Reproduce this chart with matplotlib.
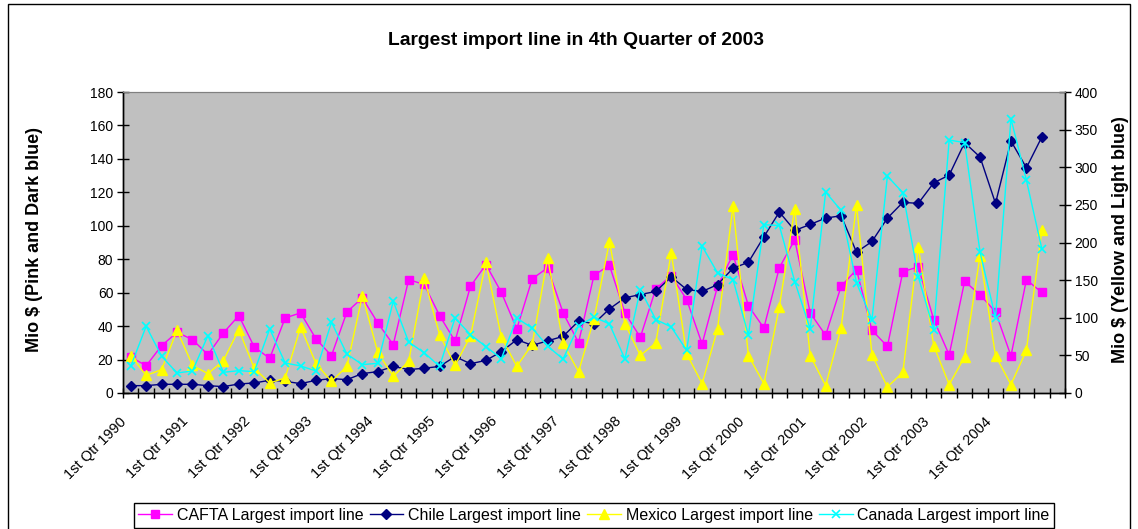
import matplotlib
matplotlib.use("Agg")
import matplotlib.pyplot as plt
import matplotlib.patches as mpatches
import numpy as np

plt.rcParams['font.family'] = ['Liberation Sans', 'DejaVu Sans']

years = list(range(1990, 2005))
quarters = ["1st Qtr", "2nd Qtr", "3rd Qtr", "4th Qtr"]
categories = [f"{q} {y}" for y in years for q in quarters] + [""]

cafta = [21.6, 16.3, 28.3, 36.3, 31.9, 22.9, 35.9, 46.3, 27.5, 20.7,
         44.9, 47.9, 32.3, 22.3, 48.5, 56.9, 41.9, 28.9, 67.8, 64.9,
         46.3, 31.0, 63.8, 76.8, 60.2, 38.3, 68.3, 74.9, 47.9, 30.1,
         70.4, 76.4, 47.9, 33.3, 62.3, 70.2, 55.9, 29.3, 63.8, 82.8,
         52.1, 38.9, 74.9, 91.6, 47.9, 34.5, 63.8, 73.8, 37.5, 27.9,
         72.6, 75.4, 43.9, 22.8, 66.8, 58.7, 48.5, 22.2, 67.7, 60.2]

chile = [4.4, 4.4, 5.2, 5.2, 5.2, 4.4, 3.8, 5.4, 6.0, 7.6,
         7.0, 5.6, 7.6, 8.6, 8.0, 11.6, 12.8, 15.9, 14.0, 14.8,
         15.9, 21.8, 17.5, 19.5, 24.7, 31.9, 28.5, 31.2, 33.9, 43.0,
         41.5, 50.3, 56.9, 58.9, 60.7, 69.5, 61.9, 60.7, 64.8, 74.6,
         78.2, 93.4, 108.2, 97.2, 100.8, 104.6, 106.0, 84.2, 90.6, 104.6,
         114.0, 113.4, 125.7, 130.3, 149.7, 141.1, 113.4, 150.7, 134.7, 153.1]

mexico = [49.6, 23.4, 31.0, 83.3, 36.7, 25.7, 43.0, 84.3, 32.7, 13.3,
          20.0, 87.8, 39.0, 15.5, 35.4, 129.5, 54.0, 22.1, 42.0, 153.0,
          77.6, 36.8, 75.4, 173.8, 74.2, 35.4, 64.9, 179.6, 66.0, 28.3,
          98.5, 201.0, 92.2, 50.0, 66.5, 186.3, 52.3, 12.4, 85.2, 248.4,
          49.7, 12.4, 114.4, 244.8, 49.7, 9.7, 86.5, 250.2, 51.0, 8.0,
          27.4, 194.3, 62.9, 11.1, 47.9, 182.7, 49.7, 11.1, 56.7, 216.0]

canada = [35.4, 88.7, 48.8, 26.6, 29.3, 76.3, 27.5, 29.7, 28.4, 85.2,
          39.9, 35.9, 29.3, 94.0, 51.7, 37.7, 39.5, 121.9, 67.6, 53.6,
          35.4, 99.5, 77.6, 61.6, 45.6, 99.5, 86.2, 62.0, 45.2, 89.2,
          101.0, 91.8, 45.2, 137.5, 97.6, 87.8, 56.7, 195.1, 159.7, 150.8,
          76.9, 223.6, 222.6, 148.1, 85.2, 267.0, 242.6, 146.4, 97.5, 288.2,
          266.1, 154.4, 84.2, 336.2, 332.7, 187.1, 99.8, 364.6, 282.9, 191.6]

series_names = ["CAFTA Largest import line", "Chile Largest import line",
                "Mexico Largest import line", "Canada Largest import line"]
title = "Largest import line in 4th Quarter of 2003"
ylabel_left = "Mio $ (Pink and Dark blue)"
ylabel_right = "Mio $ (Yellow and Light blue)"

W, H = 1138, 529
fig = plt.figure(figsize=(W / 100, H / 100), dpi=100)

# outer chart border
fig.patches.append(mpatches.Rectangle((8 / W, -0.05), (1130 - 8) / W, 1.05 - 4 / H,
                                      transform=fig.transFigure, fill=False,
                                      edgecolor='black', linewidth=1.0))

L, R, T, B = 123, 1065, 92, 393
ax = fig.add_axes([L / W, 1 - B / H, (R - L) / W, (B - T) / H])
ax.set_facecolor('#C0C0C0')
ax2 = ax.twinx()

x = np.arange(len(cafta))
lw = 1.0
ax.plot(x, cafta, color='#FF00FF', marker='s', ms=5.5, lw=lw, mec='#FF00FF', label=series_names[0])
ax.plot(x, chile, color='#000080', marker='D', ms=4.8, lw=lw, mec='#000080', label=series_names[1])
ax2.plot(x, mexico, color='#FFFF00', marker='^', ms=6.5, lw=lw, mec='#FFFF00', label=series_names[2])
ax2.plot(x, canada, color='#00FFFF', marker='x', ms=6, mew=1.2, lw=lw, label=series_names[3])

n = len(categories)
ax.set_xlim(-0.5, n - 0.5)
ax.set_ylim(0, 180)
ax2.set_ylim(0, 400)
ax.set_yticks(np.arange(0, 181, 20))
ax2.set_yticks(np.arange(0, 401, 50))

ax.set_xticks(np.arange(-0.5, n, 1.0))
ax.set_xticklabels([])
lab_idx = list(range(0, n, 4))
ax.set_xticks([i - 0.4 for i in lab_idx], minor=True)
ax.set_xticklabels([categories[i] for i in lab_idx], minor=True, rotation=45,
                   ha='right', va='center', rotation_mode='anchor', fontsize=10.5)
ax.tick_params(axis='x', which='minor', length=0, pad=19)
ax.tick_params(axis='x', which='major', direction='inout', length=7, width=1)
ax.tick_params(axis='y', direction='inout', length=8, width=1, labelsize=10, pad=3)
ax2.tick_params(axis='y', direction='inout', length=8, width=1, labelsize=10, pad=3)

for a in (ax, ax2):
    a.spines['top'].set_color('#808080')
    for s in ('left', 'right', 'bottom'):
        a.spines[s].set_color('black')
        a.spines[s].set_linewidth(1.0)

ax.set_ylabel(ylabel_left, fontsize=13, fontweight='bold')
ax.yaxis.set_label_coords((43 - L) / (R - L), 0.51)
ax2.set_ylabel(ylabel_right, fontsize=13, fontweight='bold', rotation=90)
ax2.yaxis.set_label_coords((1112 - L) / (R - L), 0.51)

fig.text(576.5 / W, 1 - 40 / H, title, ha='center', va='center', fontsize=13.9, fontweight='bold')

h1, l1 = ax.get_legend_handles_labels()
h2, l2 = ax2.get_legend_handles_labels()
leg = fig.legend(h1 + h2, l1 + l2, ncol=4, loc='upper center',
                 bbox_to_anchor=(594 / W, 1 - 503 / H), fontsize=11.5,
                 frameon=True, fancybox=False, framealpha=1, edgecolor='black',
                 handlelength=2.1, handletextpad=0.3, columnspacing=0.4,
                 borderpad=0.3, borderaxespad=0)
leg.get_frame().set_linewidth(1.0)

fig.savefig("out.png", dpi=100)
